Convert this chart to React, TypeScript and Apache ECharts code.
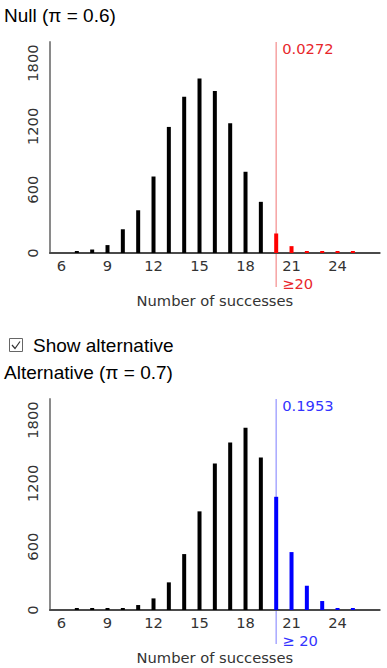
import React, { useEffect, useRef } from 'react';
import * as echarts from 'echarts';

// ---- data ----
const successes = [7, 8, 9, 10, 11, 12, 13, 14, 15, 16, 17, 18, 19, 20, 21, 22, 23, 24, 25];
const nullCounts = [8, 33, 75, 225, 405, 725, 1195, 1480, 1655, 1535, 1230, 770, 485, 185, 65, 17, 4, 1, 0];
const altCounts = [0, 1, 3, 10, 47, 110, 262, 530, 935, 1389, 1588, 1727, 1446, 1073, 549, 230, 85, 14, 2];
const xTickValues = [6, 9, 12, 15, 18, 21, 24];
const yTickInterval = 600;
const yMax = 2000;
const xMin = 5.25;
const xMax = 26.75;
const threshold = 20;
const nullTailLabel = '0.0272';
const altTailLabel = '0.1953';
const nullThresholdLabel = '≥20';
const altThresholdLabel = '≥ 20';
const nullTitle = 'Null (π = 0.6)';
const altTitle = 'Alternative (π = 0.7)';
const checkboxLabel = 'Show alternative';
const xAxisName = 'Number of successes';

const RED = '#ff0000';
const RED_LINE = '#f6a3a3';
const RED_TEXT = '#e8262b';
const BLUE = '#0000ff';
const BLUE_LINE = '#a8a8ff';
const BLUE_TEXT = '#3333ff';
const AXIS_FONT = 'DejaVu Sans';
const TITLE_FONT = 'Liberation Sans';
const AXIS_FS = 14.7;

export default function App() {
  const ref = useRef<HTMLDivElement>(null);

  useEffect(() => {
    const chart = echarts.init(ref.current!, null, { renderer: 'svg' });

    const grids = [
      { left: 50, top: 42, width: 329.7, height: 211 },
      { left: 50, top: 399, width: 329.7, height: 211 },
    ];

    const makeX = (gi: number) => ({
      type: 'value',
      gridIndex: gi,
      min: xMin,
      max: xMax,
      axisLine: { show: true, onZero: false, lineStyle: { color: '#4a4a4a', width: 2 } },
      axisTick: { show: false },
      splitLine: { show: false },
      axisLabel: {
        customValues: xTickValues,
        margin: 5,
        color: '#333',
        fontFamily: AXIS_FONT,
        fontSize: AXIS_FS,
      },
      name: xAxisName,
      nameLocation: 'middle',
      nameGap: 40,
      nameTextStyle: { color: '#333', fontFamily: AXIS_FONT, fontSize: AXIS_FS },
    });

    const makeY = (gi: number) => ({
      type: 'value',
      gridIndex: gi,
      min: 0,
      max: yMax,
      interval: yTickInterval,
      axisLine: { show: true, lineStyle: { color: '#8a8a8a', width: 2 } },
      axisTick: { show: false },
      splitLine: { show: false },
      axisLabel: {
        rotate: 90,
        margin: 10,
        color: '#333',
        fontFamily: AXIS_FONT,
        fontSize: AXIS_FS,
        formatter: (v: number) => String(v),
      },
    });

    const makeData = (counts: number[], hi: string) =>
      successes.map((x, i) => ({
        value: [x, counts[i]],
        itemStyle: { color: x >= threshold ? hi : '#000' },
      }));

    chart.setOption({
      animation: false,
      grid: grids,
      xAxis: [makeX(0), makeX(1)],
      yAxis: [makeY(0), makeY(1)],
      series: [
        {
          type: 'bar',
          xAxisIndex: 0,
          yAxisIndex: 0,
          z: 10,
          barWidth: 4,
          barMinHeight: 2,
          data: makeData(nullCounts, RED),
        },
        {
          type: 'bar',
          xAxisIndex: 1,
          yAxisIndex: 1,
          z: 10,
          barWidth: 4,
          barMinHeight: 2,
          data: makeData(altCounts, BLUE),
        },
      ],
    });

    const thresholdGraphics = (gi: number, lineColor: string, textColor: string, topLabel: string, bottomLabel: string) => {
      const top = chart.convertToPixel({ gridIndex: gi }, [threshold, yMax]) as number[];
      const base = chart.convertToPixel({ gridIndex: gi }, [threshold, 0]) as number[];
      const x = top[0];
      return [
        {
          type: 'line',
          z: 0,
          shape: { x1: x, y1: top[1], x2: x, y2: base[1] + 34 },
          style: { stroke: lineColor, lineWidth: 1.5 },
        },
        {
          type: 'text',
          z: 6,
          x: x + 6,
          y: top[1] + 6,
          style: {
            text: topLabel,
            fill: textColor,
            font: `${AXIS_FS}px "${AXIS_FONT}"`,
            textVerticalAlign: 'middle',
            textAlign: 'left',
          },
        },
        {
          type: 'text',
          z: 6,
          x: x + 6,
          y: base[1] + 30,
          style: {
            text: bottomLabel,
            fill: textColor,
            font: `${AXIS_FS}px "${AXIS_FONT}"`,
            textVerticalAlign: 'middle',
            textAlign: 'left',
          },
        },
      ];
    };

    const titleStyle = (text: string) => ({
      text,
      fill: '#000',
      font: `19px "${TITLE_FONT}"`,
      textVerticalAlign: 'middle',
      textAlign: 'left',
    });

    chart.setOption({
      graphic: [
        { type: 'text', x: 4, y: 15, style: titleStyle(nullTitle) },
        {
          type: 'rect',
          shape: { x: 9.5, y: 338.5, width: 13, height: 13 },
          style: { fill: '#fff', stroke: '#666', lineWidth: 1 },
        },
        {
          type: 'polyline',
          shape: { points: [[12, 345], [15, 348.5], [20, 341.5]] },
          style: { stroke: '#333', lineWidth: 1.2, fill: 'none' },
        },
        { type: 'text', x: 33, y: 345.5, style: titleStyle(checkboxLabel) },
        { type: 'text', x: 4, y: 372, style: titleStyle(altTitle) },
        ...thresholdGraphics(0, RED_LINE, RED_TEXT, nullTailLabel, nullThresholdLabel),
        ...thresholdGraphics(1, BLUE_LINE, BLUE_TEXT, altTailLabel, altThresholdLabel),
      ],
    });

    return () => chart.dispose();
  }, []);

  return (
    <div
      ref={ref}
      style={{ position: 'absolute', left: 0, top: 0, width: 387, height: 668, background: '#fff' }}
    />
  );
}
